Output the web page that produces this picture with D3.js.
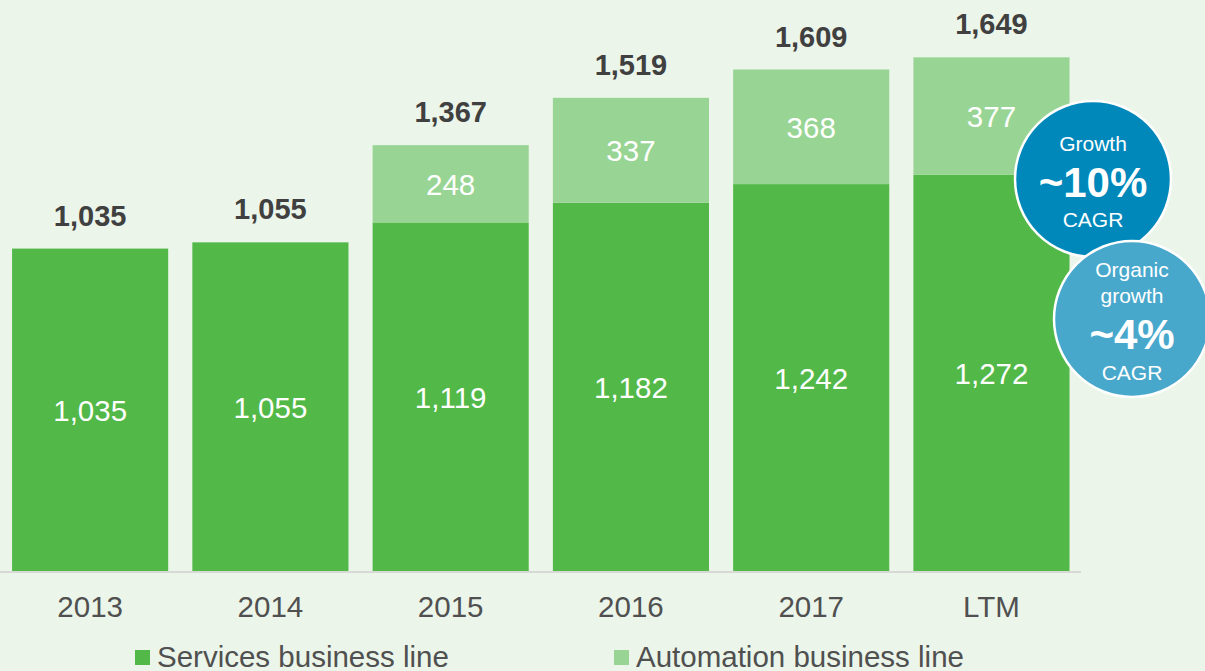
<!DOCTYPE html>
<html>
<head>
<meta charset="utf-8">
<script src="https://cdn.jsdelivr.net/npm/d3@7"></script>
<style>
  html, body { margin: 0; padding: 0; background: #ebf5e9; }
  svg { display: block; font-family: Arial, "Liberation Sans", sans-serif; }
</style>
</head>
<body>
<svg id="chart" width="1205" height="671"></svg>
<script>
var categories = ['2013', '2014', '2015', '2016', '2017', 'LTM'];
var services = [1035, 1055, 1119, 1182, 1242, 1272];
var automation = [0, 0, 248, 337, 368, 377];
var totals = [1035, 1055, 1367, 1519, 1609, 1649];
var seriesNames = ['Services business line', 'Automation business line'];
var bubbles = [
  { lines: ['Growth'], big: '~10%', small: 'CAGR' },
  { lines: ['Organic', 'growth'], big: '~4%', small: 'CAGR' }
];

var W = 1205, H = 671;
var colors = ['#52b848', '#98d594'];
var fmt = d3.format(',');

var svg = d3.select('#chart');

svg.append('rect').attr('width', W).attr('height', H).attr('fill', '#ebf5e9');

var x = d3.scaleBand()
  .domain(categories)
  .range([0, 1081.6])
  .paddingInner(0.134)
  .paddingOuter(0.067);

var y = d3.scaleLinear()
  .domain([0, 1833])
  .range([571, 0]);

/* stack the two series */
var rows = categories.map(function(c, i) {
  return { cat: c, services: services[i], automation: automation[i], total: totals[i] };
});
var stack = d3.stack().keys(['services', 'automation'])(rows);

var g = svg.append('g');

stack.forEach(function(layer, li) {
  g.append('g').selectAll('rect')
    .data(layer)
    .enter().append('rect')
      .attr('x', function(d) { return x(d.data.cat); })
      .attr('width', x.bandwidth())
      .attr('y', function(d) { return y(d[1]); })
      .attr('height', function(d) { return y(d[0]) - y(d[1]); })
      .attr('fill', colors[li]);

  g.append('g').selectAll('text')
    .data(layer.filter(function(d) { return d[1] - d[0] > 0; }))
    .enter().append('text')
      .attr('x', function(d) { return x(d.data.cat) + x.bandwidth() / 2; })
      .attr('y', function(d) { return (y(d[0]) + y(d[1])) / 2 + 11; })
      .attr('text-anchor', 'middle')
      .attr('fill', '#ffffff')
      .style('font-size', '29.5px')
      .text(function(d) { return fmt(d[1] - d[0]); });
});

/* totals above bars */
g.append('g').selectAll('text')
  .data(rows)
  .enter().append('text')
    .attr('x', function(d) { return x(d.cat) + x.bandwidth() / 2; })
    .attr('y', function(d) { return y(d.total) - 23; })
    .attr('text-anchor', 'middle')
    .attr('fill', '#404040')
    .style('font-size', '29px')
    .style('font-weight', 'bold')
    .text(function(d) { return fmt(d.total); });

/* x axis */
var xAxis = d3.axisBottom(x).tickSize(0).tickPadding(0);
var gx = svg.append('g')
  .attr('transform', 'translate(0,' + y(0) + ')')
  .call(xAxis);
gx.select('.domain').remove();
gx.append('line')
  .attr('x1', 0).attr('x2', 1081)
  .attr('y1', 1).attr('y2', 1)
  .attr('stroke', '#d6d9d4')
  .attr('stroke-width', 2);
gx.selectAll('.tick text')
  .attr('dy', null)
  .attr('y', 46)
  .attr('fill', '#505050')
  .style('font-size', '29.5px')
  .style('font-family', 'Arial, "Liberation Sans", sans-serif');

/* growth bubbles */
var bub = [
  { cx: 1093, cy: 179, fill: '#0088bb', lineY: [151], bigY: 197, smallY: 227 },
  { cx: 1132, cy: 319, fill: '#48a8cc', lineY: [277, 303], bigY: 349, smallY: 380 }
];
bubbles.forEach(function(b, i) {
  var p = bub[i];
  var bg = svg.append('g');
  bg.append('circle')
    .attr('cx', p.cx).attr('cy', p.cy).attr('r', 78)
    .attr('fill', p.fill)
    .attr('stroke', '#ffffff')
    .attr('stroke-width', 2.5);
  b.lines.forEach(function(t, j) {
    bg.append('text')
      .attr('x', p.cx).attr('y', p.lineY[j])
      .attr('text-anchor', 'middle')
      .attr('fill', '#ffffff')
      .style('font-size', '21px')
      .text(t);
  });
  bg.append('text')
    .attr('x', p.cx).attr('y', p.bigY)
    .attr('text-anchor', 'middle')
    .attr('fill', '#ffffff')
    .style('font-size', '42px')
    .style('font-weight', 'bold')
    .text(b.big);
  bg.append('text')
    .attr('x', p.cx).attr('y', p.smallY)
    .attr('text-anchor', 'middle')
    .attr('fill', '#ffffff')
    .style('font-size', '21px')
    .text(b.small);
});

/* legend */
var legendX = [135, 614];
var lg = svg.append('g');
seriesNames.forEach(function(name, i) {
  lg.append('rect')
    .attr('x', legendX[i]).attr('y', 650)
    .attr('width', 15).attr('height', 15)
    .attr('fill', colors[i]);
  lg.append('text')
    .attr('x', legendX[i] + 22).attr('y', 667)
    .attr('fill', '#505050')
    .style('font-size', '29.5px')
    .text(name);
});
</script>
</body>
</html>
